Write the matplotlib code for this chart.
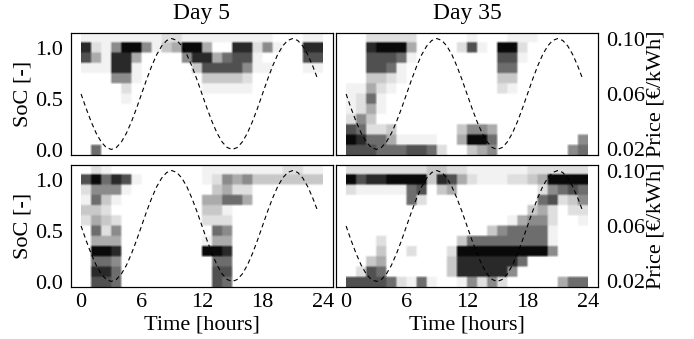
import matplotlib
matplotlib.use("Agg")
import matplotlib.pyplot as plt
import numpy as np

plt.rcParams["font.family"] = "serif"
plt.rcParams["font.serif"] = ["Liberation Serif", "DejaVu Serif"]

# --- data ------------------------------------------------------------------ #
# time of day (half-hour steps) and electricity price [EUR/kWh]
hours = np.arange(0, 24, 0.5)
price = [0.0600, 0.0496, 0.0400, 0.0317, 0.0254, 0.0214, 0.0200, 0.0214,
         0.0254, 0.0317, 0.0400, 0.0496, 0.0600, 0.0704, 0.0800, 0.0883,
         0.0946, 0.0986, 0.1000, 0.0986, 0.0946, 0.0883, 0.0800, 0.0704,
         0.0600, 0.0496, 0.0400, 0.0317, 0.0254, 0.0214, 0.0200, 0.0214,
         0.0254, 0.0317, 0.0400, 0.0496, 0.0600, 0.0704, 0.0800, 0.0883,
         0.0946, 0.0986, 0.1000, 0.0986, 0.0946, 0.0883, 0.0800, 0.0704]

# SoC occupancy (0-9), one string per SoC bin from 1.1 (top) down to 0.0,
# one character per hour 0..23
day5_top = [
    "111111112211111111100011",
    "821599513499400882510088",
    "741884000058846771000077",
    "111881000003777751100011",
    "000551000000333320000000",
    "000020000000111110000000",
    "000010000000000000000000",
    "000000000000000000000000",
    "000000000000000000000000",
    "000000000000000000000000",
    "000000000000000000000000",
    "060000000000000000000000",
]
day35_top = [
    "002222200000100011100000",
    "008999400002710992000000",
    "007776100000000771000000",
    "007761000000000660000000",
    "003321000000000330000000",
    "114210000000000210000000",
    "126100000000000000000000",
    "124100000000000000000000",
    "253000000000000000000000",
    "762230000003554000000000",
    "986641111004996000000005",
    "777666776200345000000056",
]
day5_bot = [
    "021000000000111111112211",
    "796871000000125453333333",
    "255510000000034220000000",
    "163100000000446640000000",
    "332000000000331000000000",
    "243200000000222000000000",
    "062500000000065000000000",
    "044400000000144000000000",
    "099800000000998000000000",
    "066500000000066000000000",
    "088600000000077000000000",
    "077600000000076000000000",
]
day35_bot = [
    "222222223322111111222222",
    "978899993874211122349999",
    "211111670340000000025676",
    "000000620000000000067235",
    "000000000000000000342022",
    "000000000000000014552001",
    "000000000000003566661000",
    "000200000003666666661000",
    "000300200029999999995000",
    "003400000038888886000000",
    "027600000038888850000000",
    "777762161001525200000466",
]

titles = ["Day 5", "Day 35"]
xticks = [0, 6, 12, 18, 24]
soc_ticks = [0.0, 0.5, 1.0]
price_ticks = [0.02, 0.06, 0.10]


def to_grid(rows):
    # bottom row first for origin="lower"; cells repeated so that the
    # bilinear resampling only softens the cell edges
    g = np.array([[int(ch) for ch in r] for r in rows[::-1]], dtype=float)
    return np.kron(g, np.ones((4, 4)))


fig, axes = plt.subplots(2, 2, figsize=(6.94, 3.39), dpi=100)
fig.subplots_adjust(left=0.1023, right=0.8617, bottom=0.1534, top=0.9027,
                    wspace=0.0115, hspace=0.082)

panels = [[day5_top, day35_top], [day5_bot, day35_bot]]
fs_tick = 16
fs_lab = 16

for i in range(2):
    for j in range(2):
        ax = axes[i, j]
        ax.imshow(to_grid(panels[i][j]), cmap="Greys", vmin=0, vmax=9.3,
                  origin="lower", aspect="auto", interpolation="bilinear",
                  extent=[0, 24, -0.05, 1.15])
        ax.set_xlim(-1, 25)
        ax.set_ylim(-0.05, 1.15)
        ax.set_xticks(xticks)
        ax.set_yticks(soc_ticks)
        ax.tick_params(length=0, labelsize=fs_tick, pad=6)
        ax.tick_params(axis="x", pad=4)
        if j == 0:
            ax.set_yticklabels(["0.0", "0.5", "1.0"])
            ax.set_ylabel("SoC [-]", fontsize=fs_lab, labelpad=2)
        else:
            ax.set_yticklabels([])
        if i == 1:
            ax.set_xlabel("Time [hours]", fontsize=fs_lab, labelpad=3)
        else:
            ax.set_xticklabels([])
            ax.set_title(titles[j], fontsize=17, pad=10)

        tw = ax.twinx()
        tw.plot(hours, price, color="k", lw=0.8, ls="--", dashes=(4, 3))
        tw.set_ylim(0.016, 0.104)
        tw.set_yticks(price_ticks)
        tw.tick_params(length=0, labelsize=fs_tick, pad=6)
        if j == 1:
            tw.set_yticklabels(["0.02", "0.06", "0.10"])
            tw.set_ylabel("Price [\u20ac/kWh]", fontsize=fs_lab, labelpad=1)
        else:
            tw.set_yticklabels([])

fig.savefig("out.png", dpi=100)
